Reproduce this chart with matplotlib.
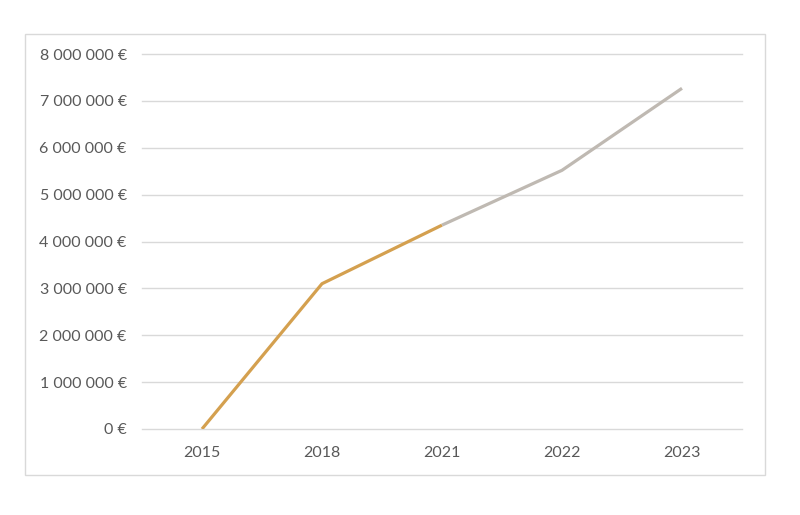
import matplotlib.pyplot as plt
import matplotlib.ticker as ticker

years = ['2015', '2018', '2021', '2022', '2023']
values = [0, 3100000, 4350000, 5520000, 7270000]
split = 2  # index where the forecast part starts (2021)

plt.rcParams['font.family'] = ['Lato', 'DejaVu Sans']

fig = plt.figure(figsize=(8, 5.15), dpi=100)
ax = fig.add_axes([0.1775, 0.167, 0.75, 0.728])

x = list(range(len(years)))
ax.plot(x[:split + 1], values[:split + 1], color='#D4A04F', lw=2.3, solid_capstyle='butt', zorder=3)
ax.plot(x[split:], values[split:], color='#BFB9B2', lw=2.3, solid_capstyle='butt', zorder=3)

ax.set_xlim(-0.5, len(years) - 0.5)
ax.set_ylim(0, 8000000)
ax.set_xticks(x)
ax.set_xticklabels(years)
ax.yaxis.set_major_locator(ticker.MultipleLocator(1000000))
ax.yaxis.set_major_formatter(ticker.FuncFormatter(
    lambda v, p: '{:,.0f} €'.format(v).replace(',', ' ')))

ax.grid(axis='y', color='#D9D9D9', lw=1)
for gl in ax.get_ygridlines():
    gl.set_clip_on(False)
ax.set_axisbelow(True)
for s in ax.spines.values():
    s.set_visible(False)
ax.tick_params(length=0, colors='#595959', labelsize=11.5)
ax.tick_params(axis='y', pad=11)
ax.tick_params(axis='x', pad=12)

fig.add_artist(plt.Rectangle((25 / 800, 1 - 475 / 515), 740 / 800, 441 / 515,
                             transform=fig.transFigure, fill=False,
                             edgecolor='#D9D9D9', lw=1))

plt.savefig('out.png', dpi=100)
